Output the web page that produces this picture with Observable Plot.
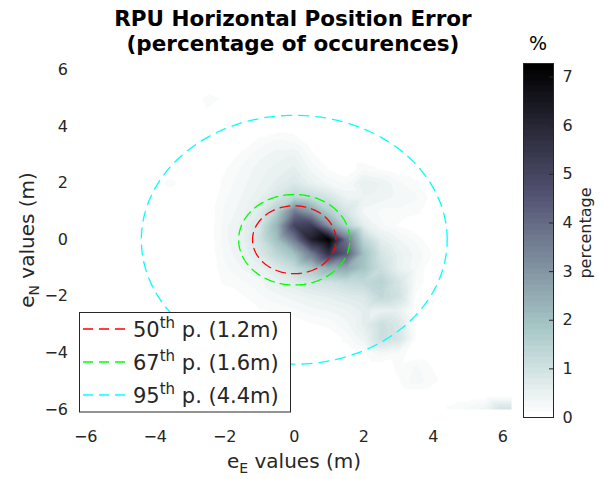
<!DOCTYPE html>
<html><head><meta charset="utf-8">
<script src="https://cdn.jsdelivr.net/npm/d3@7"></script>
<script src="https://cdn.jsdelivr.net/npm/@observablehq/plot@0.6"></script>
<style>
body{margin:0;background:#fff;}
#wrap{position:relative;width:604px;height:479px;overflow:hidden;background:#fff;font-family:"DejaVu Sans",sans-serif;}
#wrap svg{position:absolute;left:0;top:0;}
</style></head><body><div id="wrap"></div>
<script>
// ---- data ----
const titleLines = ["RPU Horizontal Position Error", "(percentage of occurences)"];
const xTicks = [-6, -4, -2, 0, 2, 4, 6];
const yTicks = [-6, -4, -2, 0, 2, 4, 6];
const cbarTicks = [0, 1, 2, 3, 4, 5, 6, 7];
const cMax = 7.28;
const gridX = [-6,-5.5,-5,-4.5,-4,-3.5,-3,-2.5,-2,-1.5,-1,-0.5,0,0.5,1,1.5,2,2.5,3,3.5,4,4.5,5,5.5,6];
const gridY = [6,5.5,5,4.5,4,3.5,3,2.5,2,1.5,1,0.5,0,-0.5,-1,-1.5,-2,-2.5,-3,-3.5,-4,-4.5,-5,-5.5,-6];
// percentage of occurrences, rows = gridY (top to bottom), cols = gridX
const density = [
 [0,0,0,0,0,0,0,0,0,0,0,0,0,0,0,0,0,0,0,0,0,0,0,0,0],
 [0,0,0,0,0,0,0,0,0,0,0,0,0,0,0,0,0,0,0,0,0,0,0,0,0],
 [0,0,0,0,0,0,0,0.15,0.1,0,0,0,0,0,0,0,0,0,0,0,0,0,0,0,0],
 [0,0,0,0,0,0,0,0.1,0.1,0,0,0,0,0,0,0,0,0,0,0,0,0,0,0,0],
 [0,0,0,0,0,0,0,0,0,0,0,0,0,0,0,0,0,0,0,0,0,0,0,0,0],
 [0,0,0,0,0,0,0,0,0,0,0.15,0.25,0.2,0,0,0,0,0,0,0,0,0,0,0,0],
 [0,0,0,0,0,0,0,0,0,0.15,0.3,0.4,0.45,0.15,0,0,0,0,0,0,0,0,0,0,0],
 [0,0,0,0,0,0,0,0,0.1,0.25,0.4,0.5,0.6,0.3,0.1,0,0.2,0.1,0,0,0,0,0,0,0],
 [0,0,0,0,0.08,0.15,0,0,0.15,0.3,0.45,0.6,0.8,0.5,0.3,0.2,0.55,0.45,0.25,0.15,0,0,0,0,0],
 [0,0,0,0,0,0,0,0,0.2,0.35,0.55,0.9,1.4,1.2,0.9,0.45,0.45,0.4,0.3,0.25,0.05,0,0,0,0],
 [0,0,0,0,0,0,0,0,0.25,0.4,0.7,1.6,3.6,2.7,1.6,0.9,0.3,0.2,0.2,0.15,0,0,0,0,0],
 [0,0,0,0,0,0,0,0,0.3,0.5,0.9,2.3,5.0,5.3,3.0,1.5,0.6,0.25,0.1,0,0,0,0,0,0],
 [0,0,0,0,0,0,0,0,0.3,0.5,1.0,2.0,3.6,6.2,7.26,3.8,1.4,0.6,0.35,0.2,0,0,0,0,0],
 [0,0,0,0,0,0,0,0,0.25,0.45,0.8,1.4,2.0,3.6,5.6,4.4,2.0,0.9,0.5,0.3,0.1,0,0,0,0],
 [0,0,0,0,0,0,0,0,0.2,0.35,0.5,0.8,1.2,1.8,2.4,2.6,1.9,1.1,0.5,0.25,0,0,0,0,0],
 [0,0,0,0,0,0,0,0,0.15,0.2,0.3,0.5,0.7,0.9,1.0,1.2,1.3,1.5,0.9,0.2,0,0,0,0,0],
 [0,0,0,0,0,0,0,0,0,0.1,0.2,0.3,0.4,0.5,0.6,0.7,0.8,1.3,1.0,0.1,0,0,0,0,0],
 [0,0,0,0,0,0,0,0,0,0,0.1,0.15,0.2,0.3,0.35,0.45,0.6,0.5,0.5,0,0,0,0,0,0],
 [0,0,0,0,0,0,0,0,0,0,0,0,0,0.1,0.15,0.3,0.6,1.1,0.8,0,0,0,0,0,0],
 [0,0,0,0,0,0,0,0,0,0,0,0,0,0,0,0.15,0.4,1.1,0.9,0.1,0,0,0,0,0],
 [0,0,0,0,0,0,0,0,0,0,0,0,0,0,0,0,0.1,0.3,0.2,0,0,0,0,0,0],
 [0,0,0,0,0,0,0,0,0,0,0,0,0,0,0,0,0,0,0.15,0.25,0.1,0,0,0,0],
 [0,0,0,0,0,0,0,0,0,0,0,0,0,0,0,0,0,0,0.1,0.3,0.15,0,0,0,0],
 [0,0,0,0,0,0,0,0,0,0,0,0,0,0,0,0,0,0,0,0,0,0,0,0,0],
 [0,0,0,0,0,0,0,0,0,0,0,0,0,0,0,0,0,0,0,0,0,0.15,0.25,0.4,1.0]
];
const radii = [1.2, 1.6, 4.4];
const circleColors = ["#ff0000", "#00ff00", "#00ffff"];
const circleDash = ["10,6", "10,6", "10,7"];
const legendPct = ["50", "67", "95"];
const legendRest = [" p. (1.2m)", " p. (1.6m)", " p. (4.4m)"];

// ---- helpers ----
function boneReversed(t) {
  const q = Math.min(63, Math.max(0, Math.floor(t * 64))) / 63;
  const s = 1 - q;
  const hr = Math.min(1, s / 0.375);
  const hg = Math.max(0, Math.min(1, (s - 0.375) / 0.375));
  const hb = Math.max(0, Math.min(1, (s - 0.75) / 0.25));
  const R = (7 * s + hb) / 8, G = (7 * s + hg) / 8, B = (7 * s + hr) / 8;
  return `rgb(${Math.round(R * 255)},${Math.round(G * 255)},${Math.round(B * 255)})`;
}
const colorOpts = {type: "linear", domain: [0, cMax], clamp: true, interpolate: function (t) { return boneReversed(t); }};

const cells = density.flatMap((row, j) => row.map((v, i) => ({x: gridX[i], y: gridY[j], v})));
const circles = radii.map(r => d3.range(0, 361, 2).map(a => ({x: r * Math.cos(a * Math.PI / 180), y: r * Math.sin(a * Math.PI / 180)})));

const W = 604, H = 479;
const frameL = 76.5, frameR = 511, frameT = 62.5, frameB = 416;
const ink = "#262626";
const wrap = document.getElementById("wrap");

// ---- main heatmap ----
const main = Plot.plot({
  width: W, height: H,
  marginLeft: frameL, marginRight: W - frameR, marginTop: frameT, marginBottom: H - frameB,
  x: {domain: [-6.25, 6.25]},
  y: {domain: [-6.25, 6.25]},
  color: colorOpts,
  style: {fontFamily: "DejaVu Sans", fontSize: "16px", color: ink, background: "transparent"},
  marks: [
    Plot.raster(cells, {x: "x", y: "y", fill: "v", interpolate: "barycentric", x1: -6.25, x2: 6.25, y1: -6.25, y2: 6.25}),
    ...circles.map((pts, k) => Plot.line(pts, {x: "x", y: "y", stroke: circleColors[k], strokeWidth: 1.3, strokeDasharray: circleDash[k]})),
    Plot.axisX({ticks: xTicks, tickSize: 0, tickPadding: 14, label: null, fontSize: 16}),
    Plot.axisY({ticks: yTicks, tickSize: 0, tickPadding: 9, label: null, fontSize: 16})
  ]
});
wrap.appendChild(main);

// ---- colorbar ----
const cbar = Plot.plot({
  width: W, height: H,
  marginLeft: 523, marginRight: W - 553, marginTop: 63, marginBottom: H - 417,
  x: {domain: [0, 1], axis: null},
  y: {domain: [0, cMax]},
  color: colorOpts,
  style: {fontFamily: "DejaVu Sans", fontSize: "16px", color: ink, background: "transparent"},
  marks: [
    Plot.raster({fill: (x, y) => y, x1: 0, x2: 1, y1: 0, y2: cMax}),
    Plot.tickY(cbarTicks, {y: d => d, stroke: ink, insetLeft: 26}),
    Plot.axisY({anchor: "right", ticks: cbarTicks, tickSize: 0, tickPadding: 9, label: null, fontSize: 16}),
    Plot.frame({stroke: ink})
  ]
});
wrap.appendChild(cbar);

// ---- overlay texts and legend ----
const svg = d3.create("svg").attr("width", W).attr("height", H)
  .attr("font-family", "DejaVu Sans, sans-serif");
svg.append("text").attr("x", 293).attr("y", 26).attr("text-anchor", "middle")
  .attr("font-size", 21.5).attr("font-weight", "bold").attr("fill", "#000").text(titleLines[0]);
svg.append("text").attr("x", 293).attr("y", 51).attr("text-anchor", "middle")
  .attr("font-size", 21.5).attr("font-weight", "bold").attr("fill", "#000").text(titleLines[1]);
svg.append("text").attr("x", 538).attr("y", 50).attr("text-anchor", "middle")
  .attr("font-size", 19).attr("fill", "#000").text("%");

const xl = svg.append("text").attr("x", 294).attr("y", 468).attr("text-anchor", "middle")
  .attr("font-size", 20).attr("fill", ink);
xl.append("tspan").text("e");
xl.append("tspan").attr("font-size", 14).attr("dy", 5).text("E");
xl.append("tspan").attr("dy", -5).text(" values (m)");

const yl = svg.append("text").attr("transform", "translate(34,240) rotate(-90)").attr("text-anchor", "middle")
  .attr("font-size", 20).attr("fill", ink);
yl.append("tspan").text("e");
yl.append("tspan").attr("font-size", 14).attr("dy", 5).text("N");
yl.append("tspan").attr("dy", -5).text(" values (m)");

svg.append("text").attr("transform", "translate(591,233) rotate(-90)").attr("text-anchor", "middle")
  .attr("font-size", 16).attr("fill", ink).text("percentage");

const lg = svg.append("g");
lg.append("rect").attr("x", 79.5).attr("y", 312.5).attr("width", 211).attr("height", 99.5)
  .attr("fill", "#fff").attr("stroke", ink).attr("stroke-width", 1);
const rowY = [329, 362, 395];
legendPct.forEach((p, k) => {
  lg.append("line").attr("x1", 83).attr("x2", 129).attr("y1", rowY[k]).attr("y2", rowY[k])
    .attr("stroke", circleColors[k]).attr("stroke-width", 1.3).attr("stroke-dasharray", "10,6");
  const t = lg.append("text").attr("x", 133).attr("y", rowY[k] + 8).attr("font-size", 21).attr("fill", ink);
  t.append("tspan").text(p);
  t.append("tspan").attr("font-size", 15).attr("dy", -9).text("th");
  t.append("tspan").attr("dy", 9).text(legendRest[k]);
});
wrap.appendChild(svg.node());
</script></body></html>
